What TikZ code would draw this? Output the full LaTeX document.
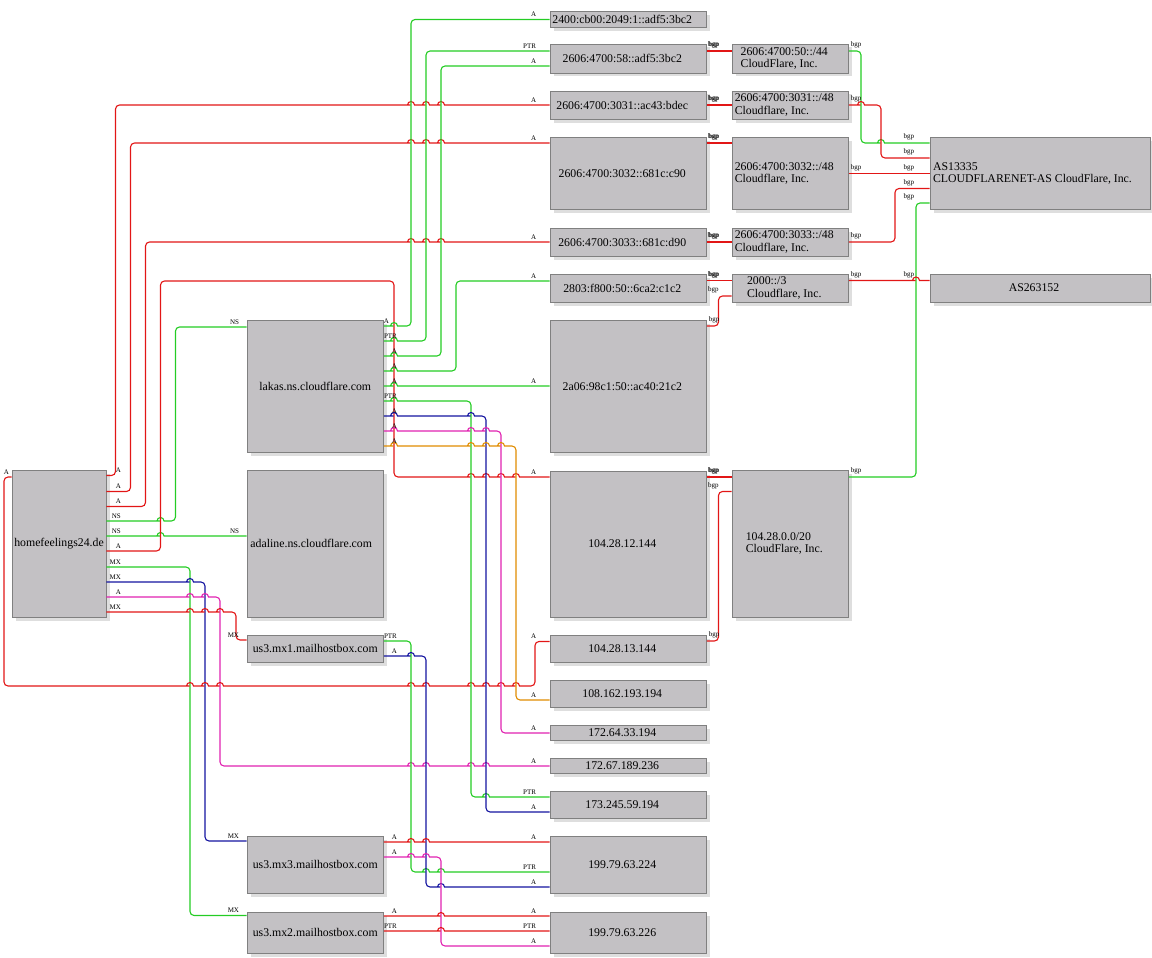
\documentclass[tikz,border=0pt]{standalone}
\usepackage{fontspec}
\setmainfont{Liberation Serif}
\usetikzlibrary{shadows}
\definecolor{cR}{RGB}{226,22,22}
\definecolor{cG}{RGB}{36,204,36}
\definecolor{cB}{RGB}{20,20,160}
\definecolor{cM}{RGB}{224,34,176}
\definecolor{cO}{RGB}{224,140,0}
\definecolor{boxfill}{RGB}{195,193,196}
\definecolor{boxline}{RGB}{128,128,128}
\definecolor{shadowc}{RGB}{222,222,222}
\newcommand\jmp[2]{-- (#1-4.5,#2) [sharp corners] -- (#1-3.5,#2) arc[start angle=180,end angle=0,radius=3.5pt] -- (#1+4.5,#2) [rounded corners=4pt]}
\newcommand\Tl{\hspace*{12pt}}
\begin{document}
\begin{tikzpicture}[x=1pt,y=-1pt,
  box/.style={draw=boxline, line width=0.8pt, fill=boxfill, inner sep=0pt,
    font=\fontsize{11.8}{12.3}\selectfont,
    drop shadow={shadow xshift=3.5pt, shadow yshift=-3.5pt, fill=shadowc, draw=none, opacity=1}},
  ipbox/.style={box, minimum width=156.5pt},
  pfx/.style={box, minimum width=116.5pt, align=left},
  asb/.style={box, minimum width=220pt, align=left},
  dns/.style={box, minimum width=136.5pt},
  lab/.style={font=\fontsize{7}{8}\selectfont, inner sep=0pt, anchor=south east, yshift=2pt, text=black},
  tl/.style={lab, xshift=13.5pt},
  bt/.style={lab, xshift=13pt},
  bh/.style={lab, xshift=-12.5pt},
  ht/.style={lab, xshift=15pt},
  hl/.style={lab, xshift=-13pt},
  dl/.style={lab, xshift=-7pt},
  al/.style={lab, xshift=-15pt},
  e/.style={line width=1.1pt, rounded corners=4pt},
  R/.style={e, draw=cR}, G/.style={e, draw=cG}, B/.style={e, draw=cB},
  M/.style={e, draw=cM}, O/.style={e, draw=cO}]
\useasboundingbox (0,0) rectangle (1152,958);

% left column
\node[box, minimum width=94pt, minimum height=147pt] (home) at (59,543.5) {homefeelings24.de};
\node[dns, minimum height=132pt] (lakas) at (315.25,386) {lakas.ns.cloudflare.com};
\node[dns, minimum height=147pt] (adaline) at (315.25,543.5) {adaline.ns.cloudflare.com\hspace*{8pt}};
\node[dns, minimum height=27pt] (mx1) at (315.25,648.5) {us3.mx1.mailhostbox.com};
\node[dns, minimum height=57pt] (mx3) at (315.25,864.5) {us3.mx3.mailhostbox.com};
\node[dns, minimum height=41pt] (mx2) at (315.25,932.5) {us3.mx2.mailhostbox.com};

% address column
\node[ipbox, minimum height=16pt] (ip1) at (628.25,19.5) {2400:cb00:2049:1::adf5:3bc2\Tl};
\node[ipbox, minimum height=29pt] (ip2) at (628.25,58.5) {2606:4700:58::adf5:3bc2\Tl};
\node[ipbox, minimum height=28pt] (ip3) at (628.25,105) {2606:4700:3031::ac43:bdec\Tl};
\node[ipbox, minimum height=72pt] (ip4) at (628.25,173.5) {2606:4700:3032::681c:c90\Tl};
\node[ipbox, minimum height=28pt] (ip5) at (628.25,242) {2606:4700:3033::681c:d90\Tl};
\node[ipbox, minimum height=28pt] (ip6) at (628.25,288) {2803:f800:50::6ca2:c1c2\Tl};
\node[ipbox, minimum height=132pt] (ip7) at (628.25,386.5) {2a06:98c1:50::ac40:21c2\Tl};
\node[ipbox, minimum height=146pt] (ip8) at (628.25,544) {104.28.12.144\Tl};
\node[ipbox, minimum height=27pt] (ip9) at (628.25,648.5) {104.28.13.144\Tl};
\node[ipbox, minimum height=27pt] (ip10) at (628.25,694) {108.162.193.194\Tl};
\node[ipbox, minimum height=15pt] (ip11) at (628.25,733) {172.64.33.194\Tl};
\node[ipbox, minimum height=15pt] (ip12) at (628.25,766) {172.67.189.236\Tl};
\node[ipbox, minimum height=27pt] (ip13) at (628.25,805) {173.245.59.194\Tl};
\node[ipbox, minimum height=57pt] (ip14) at (628.25,864.5) {199.79.63.224\Tl};
\node[ipbox, minimum height=41pt] (ip15) at (628.25,932.5) {199.79.63.226\Tl};

% prefix column
\node[pfx, minimum height=29pt] (p1) at (790.25,58.5) {2606:4700:50::/44\Tl\\CloudFlare, Inc.\Tl};
\node[pfx, minimum height=28pt] (p2) at (790.25,105) {2606:4700:3031::/48\Tl\\Cloudflare, Inc.\Tl};
\node[pfx, minimum height=72pt] (p3) at (790.25,173.5) {2606:4700:3032::/48\Tl\\Cloudflare, Inc.\Tl};
\node[pfx, minimum height=28pt] (p4) at (790.25,242) {2606:4700:3033::/48\Tl\\Cloudflare, Inc.\Tl};
\node[pfx, minimum height=28pt] (p5) at (790.25,288) {2000::/3\Tl\\Cloudflare, Inc.\Tl};
\node[pfx, minimum height=146.5pt] (p6) at (790.25,543.75) {104.28.0.0/20\Tl\\CloudFlare, Inc.\Tl};

% AS column
\node[asb, minimum height=72pt] (as1) at (1040,173.5) {AS13335\hspace*{15pt}\\CLOUDFLARENET-AS CloudFlare, Inc.\hspace*{15pt}};
\node[asb, minimum height=28pt] (as2) at (1040,288) {AS263152\Tl};

% ---- edges from homefeelings24.de
\draw[R] (home.east |- 0,475.5) node[ht] (t1) {A} -- (115.5,475.5) -- (115.5,105)
  \jmp{411}{105}\jmp{426}{105}\jmp{441}{105} -- (ip3.west) node[hl] (h1) {A};
\draw[R] (home.east |- 0,491.5) node[ht] (t2) {A} -- (130.5,491.5) -- (130.5,143)
  \jmp{411}{143}\jmp{426}{143}\jmp{441}{143} -- (ip4.west |- 0,143) node[hl] (h2) {A};
\draw[R] (home.east |- 0,506.5) node[ht] (t3) {A} -- (145.5,506.5) -- (145.5,242)
  \jmp{411}{242}\jmp{426}{242}\jmp{441}{242} -- (ip5.west) node[hl] (h3) {A};
\draw[G] (home.east |- 0,521) node[ht] (t4) {NS} \jmp{160.5}{521} -- (175.5,521) -- (175.5,327)
  -- (lakas.west |- 0,327) node[dl] (h4) {NS};
\draw[G] (home.east |- 0,536) node[ht] (t5) {NS} \jmp{160.5}{536}
  -- (adaline.west |- 0,536) node[dl] (h5) {NS};
\draw[R] (home.east |- 0,551) node[ht] (t6) {A} -- (160.5,551) -- (160.5,281) -- (394,281) -- (394,477)
  \jmp{471}{477}\jmp{486}{477}\jmp{501}{477}\jmp{516}{477} -- (ip8.west |- 0,477) node[hl] (h6) {A};
\draw[G] (home.east |- 0,567) node[ht] (t7) {MX} -- (190,567) -- (190,915.5)
  -- (mx2.west |- 0,915.5) node[dl] (h7) {MX};
\draw[B] (home.east |- 0,582) node[ht] (t8) {MX} \jmp{190}{582} -- (205,582) -- (205,841)
  -- (mx3.west |- 0,841) node[dl] (h8) {MX};
\draw[M] (home.east |- 0,597) node[ht] (t9) {A} \jmp{190}{597}\jmp{205}{597} -- (220,597) -- (220,766)
  \jmp{411}{766}\jmp{426}{766}\jmp{471}{766}\jmp{486}{766} -- (ip12.west) node[hl] (h9) {A};
\draw[R] (home.east |- 0,612) node[ht] (t10) {MX} \jmp{190}{612}\jmp{205}{612}\jmp{220}{612}
  -- (236,612) -- (236,640) -- (mx1.west |- 0,640) node[dl] (h10) {MX};
\draw[R] (home.west |- 0,477) node[lab, xshift=-2pt] (t11) {A} -- (4,477) -- (4,686)
  \jmp{190}{686}\jmp{205}{686}\jmp{220}{686}\jmp{411}{686}\jmp{426}{686}\jmp{471}{686}\jmp{486}{686}\jmp{501}{686}\jmp{516}{686}
  -- (535,686) -- (535,641.5) -- (ip9.west |- 0,641.5) node[hl] (h11) {A};

% ---- edges from lakas.ns.cloudflare.com
\draw[G] (lakas.east |- 0,326) node[lab, xshift=5.5pt] (t12) {A} \jmp{394}{326} -- (411,326) -- (411,19.5)
  -- (ip1.west) node[hl] (h12) {A};
\draw[G] (lakas.east |- 0,341) node[tl] (t13) {PTR} \jmp{394}{341} -- (426,341) -- (426,51)
  -- (ip2.west |- 0,51) node[hl] (h13) {PTR};
\draw[G] (lakas.east |- 0,356) node[tl] (t14) {A} \jmp{394}{356} -- (441,356) -- (441,66)
  -- (ip2.west |- 0,66) node[hl] (h14) {A};
\draw[G] (lakas.east |- 0,371) node[tl] (t15) {A} \jmp{394}{371} -- (456,371) -- (456,281)
  -- (ip6.west |- 0,281) node[hl] (h15) {A};
\draw[G] (lakas.east |- 0,386) node[tl] (t16) {A} \jmp{394}{386} -- (ip7.west |- 0,386) node[hl] (h16) {A};
\draw[G] (lakas.east |- 0,401) node[tl] (t17) {PTR} \jmp{394}{401} -- (471,401) -- (471,797)
  \jmp{486}{797} -- (ip13.west |- 0,797) node[hl] (h17) {PTR};
\draw[B] (lakas.east |- 0,416) node[tl] (t18) {A} \jmp{394}{416}\jmp{471}{416} -- (486,416) -- (486,812)
  -- (ip13.west |- 0,812) node[hl] (h18) {A};
\draw[M] (lakas.east |- 0,431) node[tl] (t19) {A} \jmp{394}{431}\jmp{471}{431}\jmp{486}{431} -- (501,431) -- (501,733)
  -- (ip11.west) node[hl] (h19) {A};
\draw[O] (lakas.east |- 0,446) node[tl] (t20) {A} \jmp{394}{446}\jmp{471}{446}\jmp{486}{446}\jmp{501}{446} -- (516,446) -- (516,700)
  -- (ip10.west |- 0,700) node[hl] (h20) {A};

% ---- mail hosts
\draw[G] (mx1.east |- 0,641) node[tl] (t21) {PTR} -- (411,641) -- (411,872) \jmp{426}{872}\jmp{441}{872}
  -- (ip14.west |- 0,872) node[hl] (h21) {PTR};
\draw[B] (mx1.east |- 0,656) node[tl] (t22) {A} \jmp{411}{656} -- (426,656) -- (426,887) \jmp{441}{887}
  -- (ip14.west |- 0,887) node[hl] (h22) {A};
\draw[R] (mx3.east |- 0,842) node[tl] (t23) {A} \jmp{411}{842}\jmp{426}{842}
  -- (ip14.west |- 0,842) node[hl] (h23) {A};
\draw[M] (mx3.east |- 0,857) node[tl] (t24) {A} \jmp{411}{857}\jmp{426}{857} -- (441,857) -- (441,946)
  -- (ip15.west |- 0,946) node[hl] (h24) {A};
\draw[R] (mx2.east |- 0,916) node[tl] (t25) {A} \jmp{441}{916} -- (ip15.west |- 0,916) node[hl] (h25) {A};
\draw[R] (mx2.east |- 0,931) node[tl] (t26) {PTR} \jmp{441}{931} -- (ip15.west |- 0,931) node[hl] (h26) {PTR};

% ---- bgp: address -> prefix
\draw[R] (ip2.east |- 0,51) node[bt] (t27) {bgp} -- (p1.west |- 0,51) node[bh] (h27) {bgp};
\draw[R] (ip3.east) node[bt] (t28) {bgp} -- (p2.west) node[bh] (h28) {bgp};
\draw[R] (ip4.east |- 0,143) node[bt] (t29) {bgp} -- (p3.west |- 0,143) node[bh] (h29) {bgp};
\draw[R] (ip5.east) node[bt] (t30) {bgp} -- (p4.west) node[bh] (h30) {bgp};
\draw[R] (ip6.east |- 0,280.5) node[bt] (t31) {bgp} -- (p5.west |- 0,280.5) node[bh] (h31) {bgp};
\draw[R] (ip7.east |- 0,326) node[bt] (t32) {bgp} -- (718.5,326) -- (718.5,296)
  -- (p5.west |- 0,296) node[bh] (h32) {bgp};
\draw[R] (ip8.east |- 0,477) node[bt] (t33) {bgp} -- (p6.west |- 0,477) node[bh] (h33) {bgp};
\draw[R] (ip9.east |- 0,641) node[bt] (t34) {bgp} -- (718.5,641) -- (718.5,491.5)
  -- (p6.west |- 0,491.5) node[bh] (h34) {bgp};

% ---- bgp: prefix -> AS
\draw[G] (p1.east |- 0,51) node[bt] (t35) {bgp} -- (861,51) -- (861,143) \jmp{881}{143}
  -- (as1.west |- 0,143) node[al] (h35) {bgp};
\draw[R] (p2.east) node[bt] (t36) {bgp} \jmp{861}{105} -- (881,105) -- (881,158)
  -- (as1.west |- 0,158) node[al] (h36) {bgp};
\draw[R] (p3.east) node[bt] (t37) {bgp} -- (as1.west) node[al] (h37) {bgp};
\draw[R] (p4.east) node[bt] (t38) {bgp} -- (895,242) -- (895,188.5)
  -- (as1.west |- 0,188.5) node[al] (h38) {bgp};
\draw[G] (p6.east |- 0,477) node[bt] (t39) {bgp} -- (916,477) -- (916,203)
  -- (as1.west |- 0,203) node[al] (h39) {bgp};
\draw[R] (p5.east |- 0,280.5) node[bt] (t40) {bgp} \jmp{916}{280.5}
  -- (as2.west |- 0,280.5) node[al] (h40) {bgp};
\end{tikzpicture}
\end{document}
